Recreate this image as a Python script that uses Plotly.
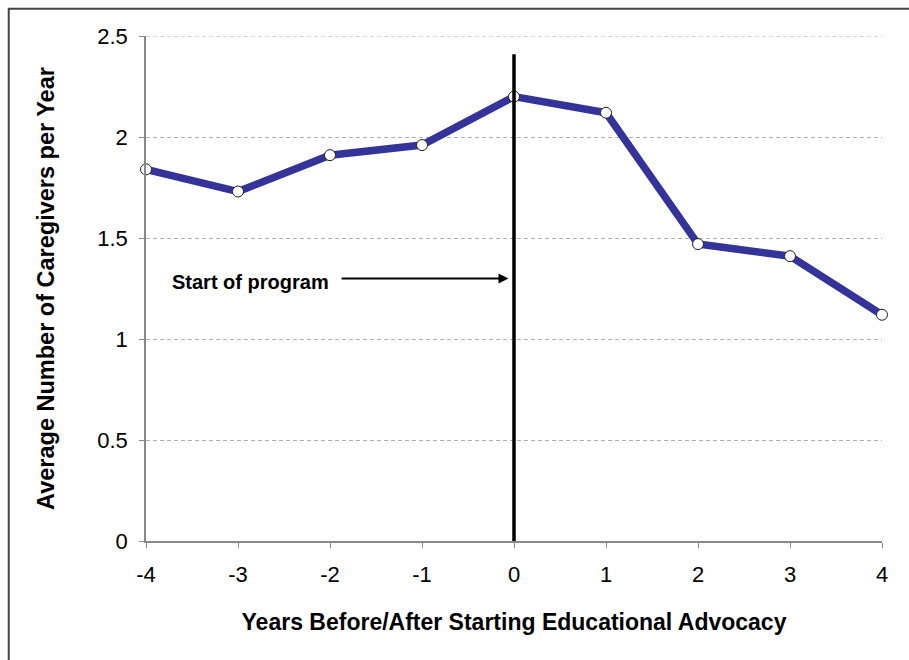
import plotly.graph_objects as go

# Years relative to the start of educational advocacy
years = [-4, -3, -2, -1, 0, 1, 2, 3, 4]
avg_caregivers = [1.84, 1.73, 1.91, 1.96, 2.20, 2.12, 1.47, 1.41, 1.12]

x_ticks = [-4, -3, -2, -1, 0, 1, 2, 3, 4]
y_ticks = [0, 0.5, 1, 1.5, 2, 2.5]

font_family = "Liberation Sans, Arial, sans-serif"
grid_color = "#b0b0b0"

fig = go.Figure()

fig.add_trace(go.Scatter(
    x=years,
    y=avg_caregivers,
    mode="lines+markers",
    line=dict(color="#333399", width=7.5),
    marker=dict(size=11, color="white", line=dict(color="#222222", width=1)),
    cliponaxis=False,
    showlegend=False,
))

# Top gridline (at the edge of the axis range)
fig.add_shape(type="line", xref="x", yref="y", x0=-4, x1=4, y0=2.5, y1=2.5,
              line=dict(color=grid_color, width=1, dash="4px,3px"), layer="below")

# Program start marker line
fig.add_shape(type="line", xref="x", yref="y", x0=0, x1=0, y0=0, y1=2.41,
              line=dict(color="black", width=3.5), layer="above")

# Outer chart frame
fig.add_shape(type="rect", xref="paper", yref="paper",
              x0=-0.1865, x1=1.1, y0=-0.3, y1=1.054,
              line=dict(color="#444444", width=2), layer="below")

fig.add_annotation(
    x=-0.06, y=1.30, xref="x", yref="y",
    ax=-1.89, ay=1.30, axref="x", ayref="y",
    text="", showarrow=True, arrowhead=2, arrowsize=1, arrowwidth=2,
    arrowcolor="black",
)
fig.add_annotation(
    x=-3.74, y=1.28, xref="x", yref="y", xanchor="left", yanchor="middle",
    text="<b>Start of program</b>", showarrow=False,
    font=dict(family=font_family, size=20, color="black"),
)

fig.update_layout(
    width=909, height=660,
    margin=dict(l=146, r=27, t=36, b=119),
    paper_bgcolor="white", plot_bgcolor="white",
    font=dict(family=font_family, color="black"),
    xaxis=dict(
        range=[-4, 4], tickvals=x_ticks, ticktext=[str(v) for v in x_ticks],
        showgrid=False, zeroline=False,
        showline=True, linecolor="#888888", linewidth=1.5,
        ticks="outside", ticklen=5, tickcolor="#888888",
        ticklabelstandoff=8,
        tickfont=dict(size=22),
        title=dict(text="<b>Years Before/After Starting Educational Advocacy</b>",
                   font=dict(size=23), standoff=28),
    ),
    yaxis=dict(
        range=[0, 2.5], tickvals=y_ticks, ticktext=["0", "0.5", "1", "1.5", "2", "2.5"],
        showgrid=True, gridcolor=grid_color, griddash="4px,3px", gridwidth=1,
        zeroline=False,
        showline=True, linecolor="#888888", linewidth=1.5,
        ticks="outside", ticklen=5, tickcolor="#888888",
        ticklabelstandoff=7,
        tickfont=dict(size=22),
        title=dict(text="<b>Average Number of Caregivers per Year</b>",
                   font=dict(size=23.5), standoff=36),
    ),
)

fig.write_html("out.html")
